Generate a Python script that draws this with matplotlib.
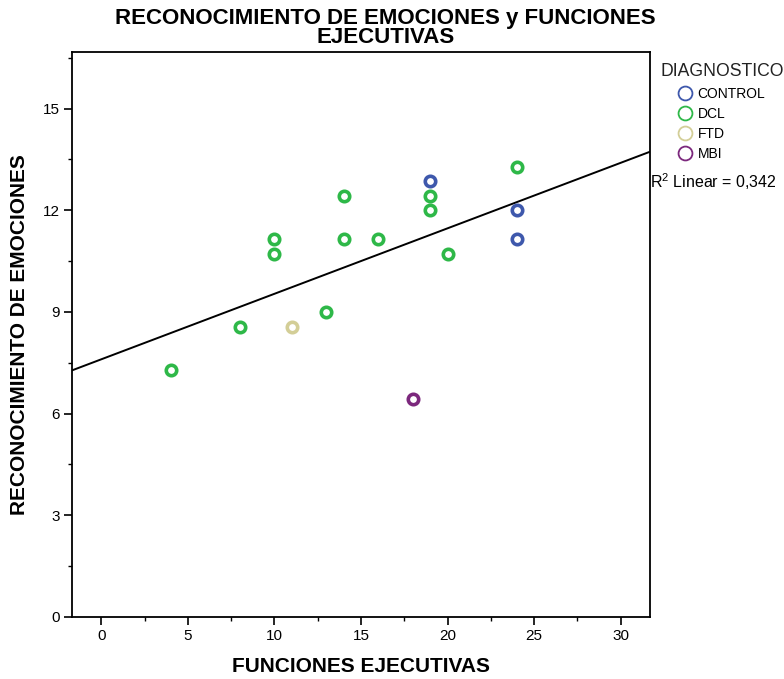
import numpy as np
import matplotlib
matplotlib.use('Agg')
import matplotlib.pyplot as plt
from matplotlib.lines import Line2D
from matplotlib.ticker import MultipleLocator

plt.rcParams['font.family'] = ['Liberation Sans', 'DejaVu Sans']
plt.rcParams['mathtext.fontset'] = 'custom'
plt.rcParams['mathtext.rm'] = 'Liberation Sans'

# data
groups = ['CONTROL', 'DCL', 'FTD', 'MBI']
colors = ['#3e58ac', '#2eb848', '#d3ce97', '#7c287d']

control_x = [19, 24, 24]
control_y = [12.86, 12.0, 11.14]
dcl_x = [4, 8, 10, 10, 13, 14, 14, 16, 19, 19, 20, 24]
dcl_y = [7.29, 8.57, 11.14, 10.71, 9.0, 12.43, 11.14, 11.14, 12.43, 12.0, 10.71, 13.29]
ftd_x = [11]
ftd_y = [8.57]
mbi_x = [18]
mbi_y = [6.43]

xs = [control_x, dcl_x, ftd_x, mbi_x]
ys = [control_y, dcl_y, ftd_y, mbi_y]

fig = plt.figure(figsize=(7.84, 6.79), dpi=100)
ax = fig.add_axes([72/784, 62/679, 578/784, 565/679])

for gx, gy, c in zip(xs, ys, colors):
    ax.plot(gx, gy, 'o', ms=7.5, mfc='white', mec=c, mew=2.6, zorder=3)

# linear fit over all points
all_x = np.concatenate([np.array(v, float) for v in xs])
all_y = np.concatenate([np.array(v, float) for v in ys])
slope, icpt = np.polyfit(all_x, all_y, 1)
xl = np.array([-1.7, 31.7])
ax.plot(xl, icpt + slope*xl, color='black', lw=1.4, zorder=2)

ax.set_xlim(-1.7, 31.7)
ax.set_ylim(0, 16.67)
ax.xaxis.set_major_locator(MultipleLocator(5))
ax.xaxis.set_minor_locator(MultipleLocator(2.5))
ax.yaxis.set_major_locator(MultipleLocator(3))
ax.yaxis.set_minor_locator(MultipleLocator(1.5))
ax.tick_params(which='major', direction='out', length=6, width=1.2, labelsize=11, colors='black', pad=3)
ax.tick_params(which='minor', direction='out', length=3, width=1)
for s in ax.spines.values():
    s.set_linewidth(1.3)

ax.set_xlabel('FUNCIONES EJECUTIVAS', fontsize=15, fontweight='bold', labelpad=10)
ax.set_ylabel('RECONOCIMIENTO DE EMOCIONES', fontsize=15, fontweight='bold', labelpad=10)

fig.text(0.492, 1 - 8/679, 'RECONOCIMIENTO DE EMOCIONES y FUNCIONES\nEJECUTIVAS',
         ha='center', va='top', fontsize=16, fontweight='bold', linespacing=0.85)

# legend
fig.text(660/784, 1 - 72/679, 'DIAGNOSTICO', fontsize=12.7, va='center', ha='left', color='#222222')
handles = [Line2D([], [], marker='o', ls='none', ms=10, mfc='white', mec=c, mew=1.3) for c in colors]
leg = fig.legend(handles, groups, loc='upper left', bbox_to_anchor=(674/784, 1 - 87/679),
                 frameon=False, fontsize=10, handletextpad=0.1, labelspacing=0.42,
                 handlelength=1.6, borderpad=0, borderaxespad=0)
fig.text(650/784, 1 - 182/679, r'R$^{2}$ Linear = 0,342', fontsize=11.5, va='center', ha='left')

fig.savefig('out.png', dpi=100)
